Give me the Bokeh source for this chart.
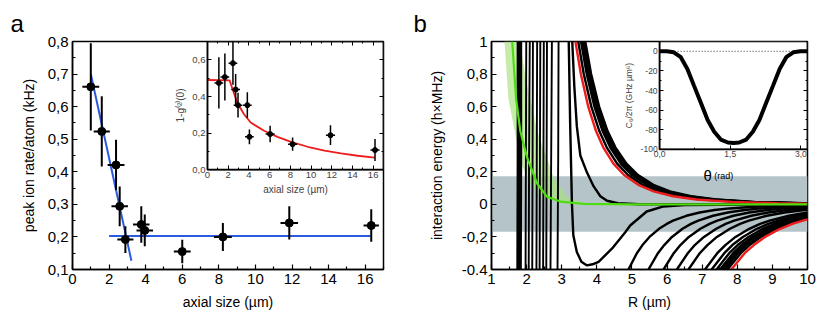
from bokeh.plotting import figure
from bokeh.layouts import row
from bokeh.models import (Range1d, LinearAxis, FixedTicker, CustomJSTickFormatter,
                          Label, BoxAnnotation, ColumnDataSource)
from bokeh.embed import file_html
from bokeh.resources import INLINE

FONT = "Liberation Sans"
IFONT = "Liberation Sans"

# ---------------- panel a: main data ----------------
a_size = [1.0, 1.6, 2.38, 2.58, 2.89, 3.76, 3.95, 6.0, 8.22, 11.85, 16.33]
a_size_err = [0.46, 0.44, 0.46, 0.45, 0.44, 0.45, 0.45, 0.46, 0.49, 0.48, 0.42]
a_rate = [0.661, 0.524, 0.421, 0.294, 0.192, 0.238, 0.220, 0.155, 0.200, 0.243, 0.235]
a_rate_err = [0.134, 0.108, 0.077, 0.061, 0.041, 0.056, 0.049, 0.036, 0.043, 0.051, 0.050]
a_fit_steep_x = [1.0, 3.22]
a_fit_steep_y = [0.700, 0.127]
a_fit_flat_x = [2.0, 16.3]
a_fit_flat_y = [0.203, 0.203]
a_xrange = [0, 17]
a_yrange = [0.1, 0.8]
a_xticks = [0, 2, 4, 6, 8, 10, 12, 14, 16]
a_xminor = [1, 3, 5, 7, 9, 11, 13, 15, 17]
a_yticks = [0.1, 0.2, 0.3, 0.4, 0.5, 0.6, 0.7, 0.8]
a_yminor = [0.15, 0.25, 0.35, 0.45, 0.55, 0.65, 0.75]

# ---------------- panel a: inset data ----------------
ia_size = [1.1, 1.68, 2.46, 2.72, 2.95, 3.85, 4.05, 6.05, 8.22, 11.88, 16.18]
ia_size_err = [0.42, 0.42, 0.42, 0.42, 0.42, 0.42, 0.42, 0.44, 0.44, 0.44, 0.44]
ia_val = [0.474, 0.506, 0.582, 0.438, 0.353, 0.353, 0.180, 0.195, 0.140, 0.189, 0.108]
ia_val_err = [0.140, 0.128, 0.118, 0.085, 0.068, 0.070, 0.040, 0.045, 0.036, 0.054, 0.060]
ia_fit_x = [0, 2.14, 2.49, 2.88, 3.53, 4.17, 5.47, 6.76, 8.06, 9.68, 11.3, 12.9, 14.5, 16.15]
ia_fit_y = [0.49, 0.488, 0.429, 0.366, 0.303, 0.258, 0.213, 0.18, 0.153, 0.126, 0.105, 0.09, 0.077, 0.067]
ia_xrange = [0, 17]
ia_yrange = [0, 0.7]
ia_xticks = [0, 2, 4, 6, 8, 10, 12, 14, 16]
ia_xminor = [1, 3, 5, 7, 9, 11, 13, 15]
ia_yticks = [0.0, 0.2, 0.4, 0.6]
ia_yminor = [0.1, 0.3, 0.5]
# inset frame position inside main frame (fractions of frame)
ia_left_frac, ia_bottom_frac = 0.434, 0.437

# ---------------- panel b data ----------------
b_xrange = [1, 10]
b_yrange = [-0.4, 1.0]
b_xticks = [1, 2, 3, 4, 5, 6, 7, 8, 9, 10]
b_xminor = [1.5, 2.5, 3.5, 4.5, 5.5, 6.5, 7.5, 8.5, 9.5]
b_yticks = [-0.4, -0.2, 0.0, 0.2, 0.4, 0.6, 0.8, 1.0]
b_yminor = [-0.3, -0.1, 0.1, 0.3, 0.5, 0.7, 0.9]
b_band = [-0.168, 0.173]

# near-vertical curves: R at E = 1.0, 0.3, -0.4
vert_E = [1.0, 0.3, -0.4]
vert_bundle_R = [[1.75, 1.75, 1.74], [1.78, 1.78, 1.77], [1.81, 1.81, 1.80], [1.84, 1.84, 1.83]]
vert_R = [[1.99, 1.98, 1.97], [2.09, 2.07, 2.06], [2.18, 2.17, 2.16], [2.30, 2.29, 2.28],
          [2.39, 2.38, 2.37], [2.49, 2.48, 2.47], [2.58, 2.57, 2.56], [2.72, 2.70, 2.68],
          [2.91, 2.90, 2.88]]

# curve with a potential well
well_R = [3.20, 3.24, 3.29, 3.33, 3.43, 3.56, 3.72, 3.88, 4.05, 4.43, 4.81, 4.95, 5.42, 5.9, 6.5, 7.5, 10.0]
well_E = [1.0, 0.5, 0.01, -0.19, -0.292, -0.353, -0.375, -0.368, -0.353, -0.272, -0.171, -0.13, -0.044, -0.013, -0.005, -0.002, 0.0]

# fast-decaying repulsive curve
fast_R = [3.30, 3.36, 3.43, 3.53, 3.72, 3.91, 4.10, 4.29, 4.6, 5.2, 10.0]
fast_E = [1.0, 0.72, 0.48, 0.30, 0.195, 0.11, 0.05, 0.022, 0.007, 0.001, 0.0]

# repulsive family: R at the energy levels below, then value at R = 10
rep_E = [1.0, 0.8, 0.6, 0.45, 0.35, 0.25, 0.18, 0.12, 0.08, 0.05, 0.03, 0.015, 0.007]
rep_black_R = [
    [3.47, 3.628, 3.843, 4.071, 4.281, 4.579, 4.889, 5.303, 5.750, 6.317, 6.995, 8.035, 9.361],
    [3.55, 3.712, 3.932, 4.165, 4.380, 4.684, 5.002, 5.425, 5.883, 6.463, 7.156, 8.220, 9.577],
    [3.59, 3.754, 3.976, 4.211, 4.429, 4.737, 5.058, 5.487, 5.949, 6.536, 7.237, 8.313, 9.685],
    [3.63, 3.796, 4.021, 4.258, 4.478, 4.790, 5.114, 5.548, 6.016, 6.609, 7.318, 8.406, 9.793],
    [3.67, 3.837, 4.065, 4.305, 4.528, 4.843, 5.171, 5.609, 6.082, 6.682, 7.398, 8.498, 9.901],
]
rep_black_end = [0.0050, 0.0056, 0.0060, 0.0063, 0.0067]
rep_red_R = [3.39, 3.545, 3.755, 3.977, 4.182, 4.473, 4.776, 5.181, 5.618, 6.172, 6.834, 7.850, 9.146]
rep_red_end = 0.0045

# attractive family: R at the energy levels below, then value at R = 10
att_E = [-0.4, -0.3, -0.25, -0.2, -0.15, -0.12, -0.1, -0.07, -0.05, -0.035, -0.025, -0.015, -0.008]
att_black_R = [
    [4.90, 5.14, 5.30, 5.50, 5.77, 5.99, 6.17, 6.55, 6.93, 7.35, 7.78, 8.47, 9.40],
    [5.47, 5.74, 5.92, 6.14, 6.44, 6.68, 6.89, 7.31, 7.73, 8.21, 8.68, 9.45],
    [5.90, 6.19, 6.38, 6.62, 6.95, 7.21, 7.43, 7.89, 8.34, 8.86, 9.36],
    [6.28, 6.59, 6.79, 7.05, 7.40, 7.67, 7.91, 8.40, 8.88, 9.43],
    [6.61, 6.93, 7.15, 7.42, 7.79, 8.08, 8.33, 8.84, 9.35, 9.92],
    [7.08, 7.43, 7.66, 7.95, 8.34, 8.65, 8.92, 9.47],
    [7.27, 7.63, 7.86, 8.16, 8.56, 8.88, 9.16, 9.72],
    [7.41, 7.77, 8.01, 8.32, 8.73, 9.06, 9.34, 9.91],
    [7.51, 7.88, 8.12, 8.43, 8.85, 9.18, 9.46],
    [7.58, 7.95, 8.20, 8.51, 8.93, 9.26, 9.55],
    [7.65, 8.02, 8.27, 8.59, 9.01, 9.35, 9.64],
    [7.72, 8.10, 8.35, 8.67, 9.09, 9.43, 9.73],
]
att_black_end = [-0.006, -0.011, -0.017, -0.025, -0.033, -0.050, -0.059, -0.066, -0.072, -0.076, -0.080, -0.085]
att_red_R = [7.83, 8.21, 8.47, 8.79, 9.22, 9.57, 9.87]
att_red_end = -0.092

# green curve and its uncertainty band
green_R = [1.59, 1.70, 1.82, 2.01, 2.30, 2.58, 2.96, 3.62, 5.0, 10.0]
green_E = [1.0, 0.65, 0.45, 0.29, 0.128, 0.047, 0.017, 0.003, 0.0, 0.0]
gband_hi_R = [1.37, 1.48, 1.66, 1.86, 2.10, 2.39, 2.87, 3.60, 4.5]
gband_hi_E = [1.0, 0.65, 0.45, 0.245, 0.128, 0.047, 0.017, 0.003, 0.0]
gband_lo_R = [1.80, 2.00, 2.30, 2.77, 3.15, 3.60, 4.5]
gband_lo_E = [1.0, 0.75, 0.45, 0.168, 0.047, 0.01, 0.0]

# panel b inset: C6 versus angle
ib_theta = [0, 0.15, 0.30, 0.45, 0.59, 0.73, 0.88, 1.02, 1.16, 1.30, 1.45, 1.57,
            1.69, 1.84, 1.98, 2.12, 2.26, 2.41, 2.55, 2.69, 2.84, 2.99, 3.1416]
ib_c6 = [0, 0, -1, -6, -18, -35, -53, -70, -82, -90, -93, -93.5,
         -93, -90, -82, -70, -53, -35, -18, -6, -1, 0, 0]
ib_xrange = [0, 3.1416]
ib_yrange = [-100, 10]
ib_xticks = [0.0, 1.5, 3.0]
ib_xminor = [0.75, 2.25]
ib_yticks = [0, -20, -40, -60, -80, -100]
ib_yminor = [10, -10, -30, -50, -70, -90]
ib_left_frac, ib_bottom_frac = 0.532, 0.527

BLACK = "#000000"
RED = "#ee1c1c"
BLUE = "#2a5ae0"
GREEN = "#4fdc10"

comma1 = CustomJSTickFormatter(code="return tick.toFixed(1).replace('.', ',');")
intfmt = CustomJSTickFormatter(code="return tick.toFixed(0);")
bfmt = CustomJSTickFormatter(code="""
if (Math.abs(tick) < 1e-9) return '0';
if (Math.abs(tick - 1) < 1e-9) return '1';
if (Math.abs(tick + 0.4) < 1e-9) return '-0.4';
return tick.toFixed(1).replace('.', ',');
""")


def style_main(p, xt, xm, yt, ym, xfmt, yfmt, xlabel, ylabel, ylab_standoff, letter, letter_offset):
    p.xgrid.visible = False
    p.ygrid.visible = False
    p.outline_line_color = BLACK
    p.outline_line_width = 1.5
    p.outline_line_alpha = 1
    for ax in (p.xaxis[0], p.yaxis[0]):
        ax.axis_line_width = 1.5
        ax.major_tick_in = 5
        ax.major_tick_out = 0
        ax.minor_tick_in = 3
        ax.minor_tick_out = 0
        ax.major_tick_line_width = 1.2
        ax.minor_tick_line_width = 1.2
        ax.major_label_text_font = FONT
        ax.major_label_text_font_size = "15px"
        ax.major_label_text_color = BLACK
        ax.axis_label_text_font = FONT
        ax.axis_label_text_font_size = "14px"
        ax.axis_label_text_font_style = "normal"
        ax.axis_label_text_color = BLACK
        ax.major_label_standoff = 4
    p.xaxis[0].ticker = FixedTicker(ticks=xt, minor_ticks=xm)
    p.yaxis[0].ticker = FixedTicker(ticks=yt, minor_ticks=ym)
    p.xaxis[0].formatter = xfmt
    p.yaxis[0].formatter = yfmt
    p.xaxis[0].axis_label = xlabel
    p.yaxis[0].axis_label = ylabel
    p.xaxis[0].axis_label_standoff = 7
    p.yaxis[0].axis_label_standoff = ylab_standoff
    # panel letter as the figure title
    p.title.text = letter
    p.title.align = "left"
    p.title.offset = letter_offset
    p.title.standoff = 9
    p.title.text_font = IFONT
    p.title.text_font_size = "24px"
    p.title.text_font_style = "normal"
    p.title.text_color = BLACK


def inset_ranges(ins_lo, ins_hi, frac):
    span = (ins_hi - ins_lo) / (1 - frac)
    return Range1d(ins_hi - span, ins_hi)


def add_inset_axes(p, xn, yn, xr, yr, xt, xm, yt, ym, xfmt, yfmt, xlabel, ylabel,
                   fs, lfs, mirror_top):
    def mk(loc, bounds, ticks, minor, fmt, label, show):
        ax = LinearAxis(x_range_name=xn, y_range_name=yn, fixed_location=loc,
                        bounds=tuple(bounds), ticker=FixedTicker(ticks=ticks, minor_ticks=minor),
                        axis_line_width=1.5, major_tick_in=4, major_tick_out=0,
                        minor_tick_in=2, minor_tick_out=0,
                        major_tick_line_width=1, minor_tick_line_width=1,
                        major_label_standoff=2, major_label_text_font=IFONT,
                        major_label_text_font_size=fs,
                        axis_label_text_font=IFONT, axis_label_text_font_size=lfs,
                        axis_label_text_font_style="normal", axis_label_standoff=3)
        if fmt is not None:
            ax.formatter = fmt
        if label:
            ax.axis_label = label
        if not show:
            ax.major_label_text_color = None
        return ax
    p.add_layout(mk(yr[0], xr, xt, xm, xfmt, xlabel, True), "below")
    p.add_layout(mk(xr[0], yr, yt, ym, yfmt, ylabel, True), "left")
    p.add_layout(mk(xr[1], yr, yt, ym, yfmt, None, False), "right")
    if mirror_top:
        p.add_layout(mk(yr[1], xr, xt, xm, xfmt, None, False), "above")


# ======================= panel a =======================
pa = figure(width=410, height=323, x_range=Range1d(*a_xrange), y_range=Range1d(*a_yrange),
            output_backend="svg", toolbar_location=None,
            min_border_left=72, min_border_right=27, min_border_top=41, min_border_bottom=54)
style_main(pa, a_xticks, a_xminor, a_yticks, a_yminor, intfmt, comma1,
           "axial size (µm)", "peak ion rate/atom (kHz)", 8, "a", -62)

pa.line(a_fit_steep_x, a_fit_steep_y, line_color=BLUE, line_width=2)
pa.line(a_fit_flat_x, a_fit_flat_y, line_color=BLUE, line_width=2)
src_a = ColumnDataSource(dict(
    x=a_size, y=a_rate,
    x0=[x - e for x, e in zip(a_size, a_size_err)], x1=[x + e for x, e in zip(a_size, a_size_err)],
    y0=[y - e for y, e in zip(a_rate, a_rate_err)], y1=[y + e for y, e in zip(a_rate, a_rate_err)]))
pa.segment(x0="x0", x1="x1", y0="y", y1="y", source=src_a, line_color=BLACK, line_width=2)
pa.segment(x0="x", x1="x", y0="y0", y1="y1", source=src_a, line_color=BLACK, line_width=2)
pa.scatter("x", "y", source=src_a, size=8, fill_color=BLACK, line_color=BLACK)

# inset of panel a
pa.extra_x_ranges = {"iax": inset_ranges(*ia_xrange, ia_left_frac)}
pa.extra_y_ranges = {"iay": inset_ranges(*ia_yrange, ia_bottom_frac)}
pa.quad(left=[ia_xrange[0]], right=[ia_xrange[1]], bottom=[ia_yrange[0]], top=[ia_yrange[1]],
        x_range_name="iax", y_range_name="iay", fill_color="white", line_color=BLACK, line_width=1.5)
pa.line(ia_fit_x, ia_fit_y, x_range_name="iax", y_range_name="iay", line_color=RED, line_width=1.8)
src_ia = ColumnDataSource(dict(
    x=ia_size, y=ia_val,
    x0=[x - e for x, e in zip(ia_size, ia_size_err)], x1=[x + e for x, e in zip(ia_size, ia_size_err)],
    y0=[y - e for y, e in zip(ia_val, ia_val_err)], y1=[y + e for y, e in zip(ia_val, ia_val_err)]))
pa.segment(x0="x0", x1="x1", y0="y", y1="y", source=src_ia, x_range_name="iax", y_range_name="iay",
           line_color=BLACK, line_width=1.5)
pa.segment(x0="x", x1="x", y0="y0", y1="y1", source=src_ia, x_range_name="iax", y_range_name="iay",
           line_color=BLACK, line_width=1.5)
pa.scatter("x", "y", source=src_ia, x_range_name="iax", y_range_name="iay", size=5,
           fill_color=BLACK, line_color=BLACK)
add_inset_axes(pa, "iax", "iay", ia_xrange, ia_yrange, ia_xticks, ia_xminor, ia_yticks, ia_yminor,
               intfmt, comma1, "axial size (µm)", "1-g⁽²⁾(0)", "9.5px", "10px", True)

# ======================= panel b =======================
pb = figure(width=420, height=323, x_range=Range1d(*b_xrange), y_range=Range1d(*b_yrange),
            output_backend="svg", toolbar_location=None,
            min_border_left=81, min_border_right=23, min_border_top=39, min_border_bottom=53)
style_main(pb, b_xticks, b_xminor, b_yticks, b_yminor, intfmt, bfmt,
           "R (µm)", "interaction energy (h×MHz)", 14, "b", -78)

pb.add_layout(BoxAnnotation(bottom=b_band[0], top=b_band[1], fill_color="#b4c4c8", fill_alpha=1,
                            line_color=None, level="underlay"))
pb.patch(gband_hi_R + gband_lo_R[::-1], gband_hi_E + gband_lo_E[::-1],
         fill_color="#a6e27d", fill_alpha=0.65, line_color=None)

for rr in vert_bundle_R:
    pb.line(rr, vert_E, line_color=BLACK, line_width=2.4)
for rr in vert_R:
    pb.line(rr, vert_E, line_color=BLACK, line_width=1.9)
for rr, end in zip(att_black_R, att_black_end):
    pb.line(rr + [10.0], att_E[:len(rr)] + [end], line_color=BLACK, line_width=2.4)
pb.line(att_red_R + [10.0], att_E[:len(att_red_R)] + [att_red_end], line_color=RED, line_width=2.4)
pb.line(well_R, well_E, line_color=BLACK, line_width=2.4)
pb.line(fast_R, fast_E, line_color=BLACK, line_width=2.4)
for rr, end in zip(rep_black_R, rep_black_end):
    pb.line(rr + [10.0], rep_E[:len(rr)] + [end], line_color=BLACK, line_width=2.4)
pb.line(rep_red_R + [10.0], rep_E[:len(rep_red_R)] + [rep_red_end], line_color=RED, line_width=2.4)
pb.line(green_R, green_E, line_color=GREEN, line_width=2.2)

# inset of panel b
pb.extra_x_ranges = {"ibx": inset_ranges(*ib_xrange, ib_left_frac)}
pb.extra_y_ranges = {"iby": inset_ranges(*ib_yrange, ib_bottom_frac)}
pb.quad(left=[ib_xrange[0]], right=[ib_xrange[1]], bottom=[ib_yrange[0]], top=[ib_yrange[1]],
        x_range_name="ibx", y_range_name="iby", fill_color="white", line_color=BLACK, line_width=1.5)
pb.line(ib_xrange, [0, 0], x_range_name="ibx", y_range_name="iby", line_color=BLACK,
        line_width=0.8, line_dash="1 2")
pb.line(ib_theta, ib_c6, x_range_name="ibx", y_range_name="iby", line_color=BLACK, line_width=4)
add_inset_axes(pb, "ibx", "iby", ib_xrange, ib_yrange, ib_xticks, ib_xminor, ib_yticks, ib_yminor,
               comma1, intfmt, None, "C₆/2π (GHz µm⁶)", "8.5px", "8.5px", False)
pb.add_layout(Label(x=1.02, y=-127, x_range_name="ibx", y_range_name="iby", text="θ",
                    text_align="center", text_baseline="alphabetic",
                    text_font=IFONT, text_font_size="15px", text_color=BLACK))
pb.add_layout(Label(x=1.16, y=-127, x_range_name="ibx", y_range_name="iby", text="(rad)",
                    text_align="left", text_baseline="alphabetic",
                    text_font=IFONT, text_font_size="9px", text_color=BLACK))

layout = row(pa, pb)
open("out.html", "w").write(file_html(layout, INLINE))
